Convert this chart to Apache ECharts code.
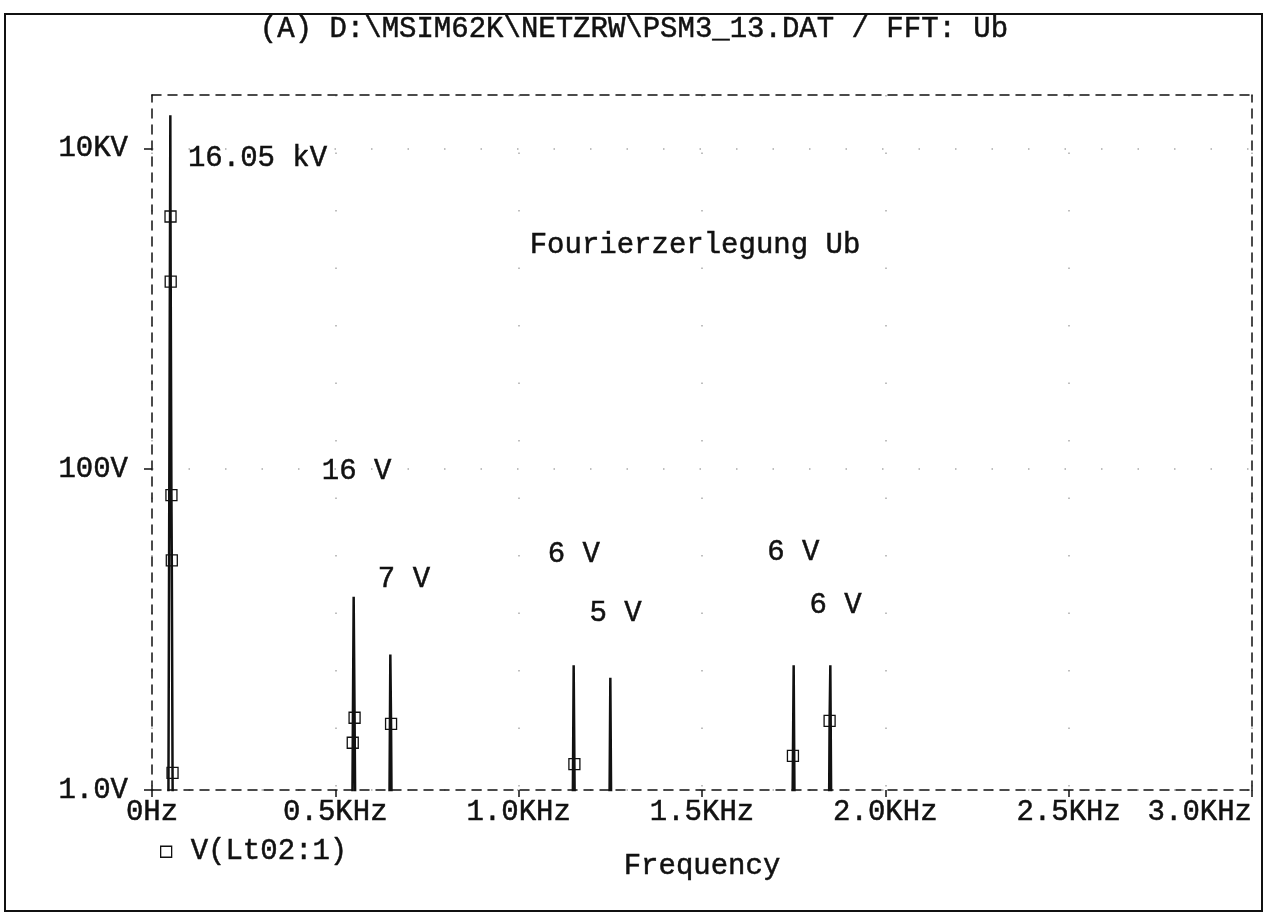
<!DOCTYPE html>
<html>
<head>
<meta charset="utf-8">
<script src="https://cdn.jsdelivr.net/npm/echarts@6/dist/echarts.min.js"></script>
<style>
html,body{margin:0;padding:0;background:#fff;}
#chart{width:1268px;height:914px;}
</style>
</head>
<body>
<div id="chart"></div>
<script>
// ---- data ----
const titleText = '(A) D:\\MSIM62K\\NETZRW\\PSM3_13.DAT / FFT: Ub';
const seriesName = 'V(Lt02:1)';
// FFT curve: frequency (kHz) and magnitude (V); values < 1 V lie below the plot
const freqKHz = [0.000, 0.044, 0.050, 0.0505, 0.051, 0.053, 0.054, 0.056, 0.058,
                 0.545, 0.5475, 0.550, 0.5525, 0.556,
                 0.646, 0.650, 0.652, 0.655,
                 1.146, 1.150, 1.152, 1.155,
                 1.246, 1.250, 1.254,
                 1.745, 1.748, 1.750, 1.754,
                 1.845, 1.848, 1.850, 1.854,
                 3.000];
const voltsV = [0.2, 0.2, 16050, 3760, 1475, 68.8, 27, 1.28, 0.2,
                0.2, 1.97, 16, 2.82, 0.2,
                0.2, 7, 2.58, 0.2,
                0.2, 6, 1.45, 0.2,
                0.2, 5, 0.2,
                0.2, 1.63, 6, 0.2,
                0.2, 2.7, 6, 0.2,
                0.2];
// 1 = a square marker is drawn on that curve point
const markerFlags = [0,0,0,1,1,1,1,1,0,
                     0,1,0,1,0,
                     0,0,1,0,
                     0,0,1,0,
                     0,0,0,
                     0,1,0,0,
                     0,1,0,0,
                     0];
// annotation texts and their anchor (left-middle) in data coordinates
const noteText = ['16.05 kV', 'Fourierzerlegung Ub', '16 V', '7 V', '6 V', '5 V', '6 V', '6 V'];
const noteFreq = [0.098, 1.03, 0.463, 0.616, 1.079, 1.193, 1.678, 1.793];
const noteVolt = [8700, 2475, 97, 20.5, 29.4, 12.6, 30.3, 14.1];
// axes
const xTickValues = [0, 0.5, 1.0, 1.5, 2.0, 2.5, 3.0];
const xTickLabels = ['0Hz', '0.5KHz', '1.0KHz', '1.5KHz', '2.0KHz', '2.5KHz', '3.0KHz'];
const yTickValues = [1, 100, 10000];
const yTickLabels = ['1.0V', '100V', '10KV'];

const FONT = 'Liberation Mono';
const INK = '#111';
const txt = { fontFamily: FONT, fontSize: 29, fontWeight: 'normal', color: INK, textBorderColor: INK, textBorderWidth: 0.5 };

const curveData = freqKHz.map((f, i) => markerFlags[i]
  ? { value: [f, voltsV[i]], symbol: 'rect' }
  : { value: [f, voltsV[i]], symbol: 'none' });
const noteData = noteText.map((t, i) => ({ name: t, value: [noteFreq[i], noteVolt[i]] }));

const dashed = { color: INK, width: 1.5, type: [9, 7] };

const chart = echarts.init(document.getElementById('chart'));
chart.setOption({
  animation: false,
  backgroundColor: '#fff',
  title: {
    text: titleText, left: 'center', top: 10,
    textStyle: Object.assign({}, txt)
  },
  legend: {
    left: 155, top: 832, itemWidth: 11, itemHeight: 11, selectedMode: false,
    data: [{ name: seriesName, icon: 'rect', itemStyle: { color: '#fff', borderColor: INK, borderWidth: 1.3 } }],
    textStyle: Object.assign({}, txt, { padding: [0, 0, 0, 14] })
  },
  graphic: [{
    type: 'rect', shape: { x: 5, y: 14, width: 1257, height: 897 },
    style: { fill: 'none', stroke: INK, lineWidth: 2 }, silent: true
  }],
  grid: { left: 152, right: 16, top: 95, bottom: 124 },
  xAxis: [{
    type: 'value', min: 0, max: 3, interval: 0.5,
    name: 'Frequency', nameLocation: 'middle', nameGap: 62,
    nameTextStyle: Object.assign({}, txt),
    axisLine: { onZero: false, lineStyle: dashed },
    axisTick: { show: true, length: 7, lineStyle: { color: INK, width: 1.5 } },
    axisLabel: Object.assign({}, txt, {
      margin: 8, alignMaxLabel: 'right',
      formatter: v => { const i = xTickValues.findIndex(t => Math.abs(t - v) < 1e-6); return i >= 0 ? xTickLabels[i] : ''; }
    }),
    splitLine: { show: true, lineStyle: { color: '#aaa', width: 1.5, type: [1.5, 56] } }
  }, {
    type: 'value', position: 'top', min: 0, max: 3,
    axisLine: { show: true, onZero: false, lineStyle: dashed },
    axisTick: { show: false }, axisLabel: { show: false }, splitLine: { show: false }
  }],
  yAxis: [{
    type: 'log', logBase: 10, min: 1, max: 21500,
    axisLine: { show: true, onZero: false, lineStyle: dashed },
    axisTick: { show: true, length: 8, customValues: yTickValues, lineStyle: { color: INK, width: 1.5 } },
    axisLabel: Object.assign({}, txt, {
      margin: 24, customValues: yTickValues,
      formatter: v => { const i = yTickValues.findIndex(t => Math.abs(Math.log10(t) - Math.log10(v)) < 1e-6); return i >= 0 ? yTickLabels[i] : ''; }
    }),
    splitLine: { show: true, lineStyle: { color: '#aaa', width: 1.5, type: [1.5, 35] } },
    minorTick: { show: false }
  }, {
    type: 'value', position: 'right', min: 0, max: 1,
    axisLine: { show: true, onZero: false, lineStyle: dashed },
    axisTick: { show: false }, axisLabel: { show: false }, splitLine: { show: false }
  }],
  series: [{
    name: seriesName, type: 'line', xAxisIndex: 0, yAxisIndex: 0,
    data: curveData, clip: true, symbol: 'rect', symbolSize: 11, showAllSymbol: true,
    lineStyle: { color: INK, width: 2.5 },
    itemStyle: { color: 'rgba(255,255,255,0)', borderColor: INK, borderWidth: 1.3 },
    emphasis: { disabled: true }, z: 3
  }, {
    name: 'notes', type: 'scatter', xAxisIndex: 0, yAxisIndex: 0,
    data: noteData, symbolSize: 0, silent: true,
    itemStyle: { color: 'rgba(0,0,0,0)', opacity: 1 },
    label: Object.assign({ show: true, position: 'right', distance: 0, formatter: '{b}', opacity: 1 }, txt),
    emphasis: { disabled: true },
    z: 4
  }]
});
</script>
</body>
</html>
